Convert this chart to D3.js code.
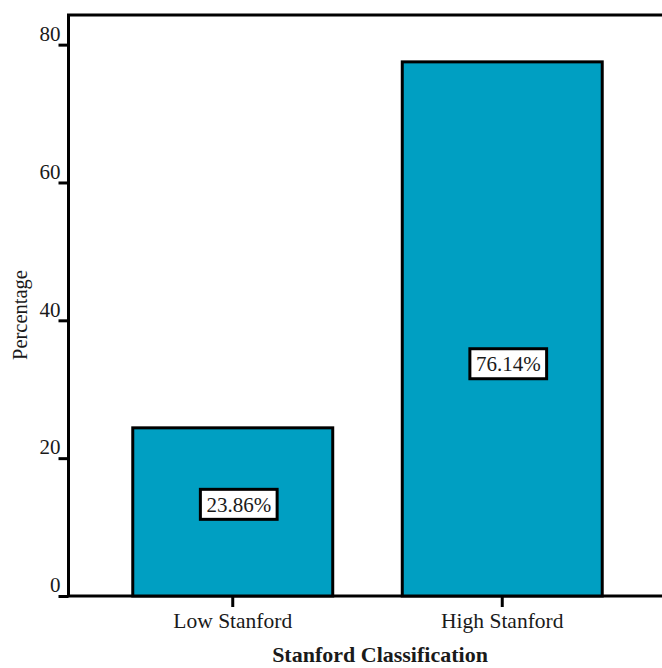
<!DOCTYPE html>
<html>
<head>
<meta charset="utf-8">
<script src="https://cdn.jsdelivr.net/npm/d3@7"></script>
<style>
  body { margin: 0; background: #fff; }
  text { font-family: "Liberation Serif", "DejaVu Serif", serif; fill: #1a1a1a; }
</style>
</head>
<body>
<div id="chart"></div>
<script>
// Data
const categories = ["Low Stanford", "High Stanford"];
const percentages = [24.4, 77.5];          // bar heights as drawn
const labels = ["23.86%", "76.14%"];       // printed labels
const labelAt = [13.3, 33.7];              // label centre, in axis units
const yTicks = [0, 20, 40, 60, 80];

const width = 662, height = 668;
const svg = d3.select("#chart")
  .append("svg")
  .attr("width", width)
  .attr("height", height);

// Scales
const y = d3.scaleLinear()
  .domain([0, 84.3])
  .range([596, 15]);
const x = d3.scaleBand()
  .domain(categories)
  .range([98, 637])
  .paddingInner(0.258)
  .paddingOuter(0.129);

// Frame (right side runs off the canvas)
svg.append("rect")
  .attr("x", 68.5)
  .attr("y", y(84.3))
  .attr("width", 700)
  .attr("height", y(0) - y(84.3))
  .attr("fill", "none")
  .attr("stroke", "#000")
  .attr("stroke-width", 3);

// Bars
svg.append("g")
  .selectAll("rect")
  .data(categories)
  .enter()
  .append("rect")
  .attr("x", d => x(d))
  .attr("y", (d, i) => y(percentages[i]))
  .attr("width", x.bandwidth())
  .attr("height", (d, i) => y(0) - y(percentages[i]))
  .attr("fill", "#009fc2")
  .attr("stroke", "#000")
  .attr("stroke-width", 3);

// Value labels in boxes, box sized to the text
const lab = svg.append("g")
  .selectAll("g")
  .data(categories)
  .enter()
  .append("g")
  .attr("transform", (d, i) => `translate(${x(d) + x.bandwidth() / 2 + 6},${y(labelAt[i])})`);
const boxes = lab.append("rect")
  .attr("fill", "#fff")
  .attr("stroke", "#000")
  .attr("stroke-width", 3);
const labTexts = lab.append("text")
  .attr("text-anchor", "middle")
  .attr("dy", "0.35em")
  .style("font-size", "21px")
  .text((d, i) => labels[i]);
labTexts.each(function (d, i) {
  const w = this.getComputedTextLength() + 12;
  d3.select(boxes.nodes()[i])
    .attr("x", -w / 2)
    .attr("y", -15)
    .attr("width", w)
    .attr("height", 30);
});

// Y axis
const yAxis = svg.append("g")
  .attr("transform", "translate(68.5,0)")
  .call(d3.axisLeft(y).tickValues(yTicks).tickSize(10).tickPadding(0));
yAxis.select(".domain").remove();
yAxis.selectAll(".tick line").attr("stroke", "#000").attr("stroke-width", 3);
yAxis.selectAll(".tick text")
  .attr("x", -8)
  .attr("dy", "-0.2em")
  .style("font-size", "21px")
  .style("font-family", "Liberation Serif, serif");

// X axis
const xAxis = svg.append("g")
  .attr("transform", `translate(0,${y(0)})`)
  .call(d3.axisBottom(x).tickSize(11).tickPadding(6));
xAxis.select(".domain").remove();
xAxis.selectAll(".tick line").attr("stroke", "#000").attr("stroke-width", 3);
xAxis.selectAll(".tick text")
  .style("font-size", "21.5px")
  .style("font-family", "Liberation Serif, serif");

// Axis titles
svg.append("text")
  .attr("x", 380)
  .attr("y", 662)
  .attr("text-anchor", "middle")
  .style("font-size", "22px")
  .style("font-weight", "bold")
  .text("Stanford Classification");
svg.append("text")
  .attr("transform", "translate(27,315) rotate(-90)")
  .attr("text-anchor", "middle")
  .style("font-size", "20.5px")
  .text("Percentage");
</script>
</body>
</html>
